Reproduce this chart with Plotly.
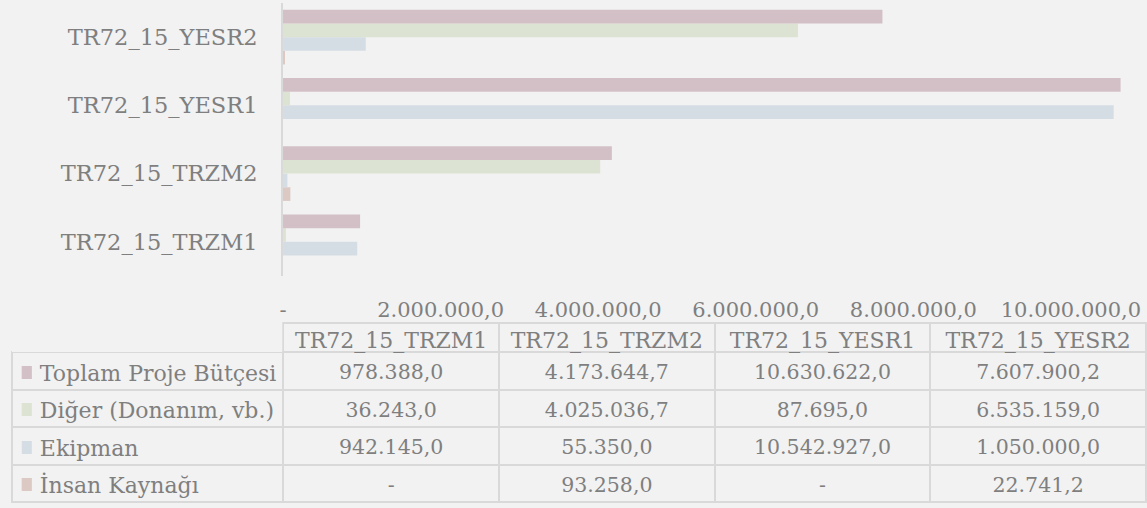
import plotly.graph_objects as go

# projects (bottom -> top on the chart)
projects = ["TR72_15_TRZM1", "TR72_15_TRZM2", "TR72_15_YESR1", "TR72_15_YESR2"]

series_names = ["Toplam Proje Bütçesi", "Diğer (Donanım, vb.)", "Ekipman", "İnsan Kaynağı"]
toplam = [978388.0, 4173644.7, 10630622.0, 7607900.2]
diger = [36243.0, 4025036.7, 87695.0, 6535159.0]
ekipman = [942145.0, 55350.0, 10542927.0, 1050000.0]
insan = [0.0, 93258.0, 0.0, 22741.2]

tick_vals = [0, 2000000, 4000000, 6000000, 8000000, 10000000]
tick_text = ["-", "2.000.000,0", "4.000.000,0", "6.000.000,0", "8.000.000,0", "10.000.000,0"]

colors = ["#d3c0c6", "#dce3d2", "#d5dde4", "#dcc9c4"]
series = [toplam, diger, ekipman, insan]

BG = "#f2f2f2"
TXT = "#7f7f7f"
GRID = "#d9d9d9"
CLEAR = "rgba(0,0,0,0)"
FONT = "DejaVu Serif"
W, H = 1147, 508


def fmt(v):
    if v == 0:
        return "-"
    s = f"{v:,.1f}"
    return s.replace(",", "X").replace(".", ",").replace("X", ".")


fig = go.Figure()

# plotly puts the first trace at the bottom of each group, so go in reverse
for name, vals, col in reversed(list(zip(series_names, series, colors))):
    fig.add_trace(go.Bar(
        y=projects, x=vals, name=name, orientation="h",
        marker=dict(color=col, line=dict(width=0)),
        hoverinfo="skip", showlegend=False,
    ))

# data table: grid + header first
fig.add_trace(go.Table(
    domain=dict(x=[8 / W, 1146 / W], y=[0, (H - 323) / H]),
    columnwidth=[273, 217, 217, 217, 217],
    header=dict(
        values=[""] + projects,
        height=29,
        fill=dict(color=BG),
        line=dict(color=[CLEAR] + [GRID] * 4, width=2),
        font=dict(family=FONT, size=22, color=TXT),
        align="center",
    ),
    cells=dict(
        values=[[""] * len(series)] * (len(projects) + 1),
        height=37.5,
        fill=dict(color=BG),
        line=dict(color=GRID, width=2),
    ),
))

# then the cell texts on top (a little lower so they sit mid-row),
# legend keys in their own narrow column; nbsp keeps labels on one line
keys = ["■"] * len(series)
labels = [n.replace(" ", "\u00a0") for n in series_names]
numbers = [[fmt(s[i]) for s in series] for i in range(len(projects))]

fig.add_trace(go.Table(
    domain=dict(x=[8 / W, 1146 / W], y=[0, (H - 327) / H]),
    columnwidth=[20, 253, 217, 217, 217, 217],
    header=dict(values=[""] * 6, height=29,
                fill=dict(color=CLEAR), line=dict(color=CLEAR, width=0)),
    cells=dict(
        values=[keys, labels] + numbers,
        height=37.5,
        fill=dict(color=CLEAR),
        line=dict(color=CLEAR, width=0),
        font=dict(family=FONT, size=[17, 22, 20.5, 20.5, 20.5, 20.5],
                  color=[colors, TXT, TXT, TXT, TXT, TXT]),
        align=["left", "left", "center", "center", "center", "center"],
    ),
))

fig.update_layout(
    width=W, height=H,
    margin=dict(l=0, r=0, t=0, b=0),
    paper_bgcolor=BG, plot_bgcolor=BG,
    barmode="group", bargap=0.2, bargroupgap=0,
    font=dict(family=FONT, size=21, color=TXT),
    xaxis=dict(
        domain=[280 / W, 1.0], range=[0, 10966000],
        tickvals=tick_vals, ticktext=tick_text,
        showgrid=False, zeroline=False, showline=False,
        ticks="", ticklabelstandoff=19,
        tickfont=dict(family=FONT, size=21, color=TXT),
    ),
    yaxis=dict(
        domain=[(H - 276) / H, (H - 3) / H],
        showgrid=False, zeroline=False,
        showline=True, linecolor=GRID, linewidth=2,
        ticks="", ticklabelstandoff=19,
        tickfont=dict(family=FONT, size=22.5, color=TXT),
    ),
)

fig.write_html("out.html", config={"displayModeBar": False},
               post_script="document.body.style.margin='0';")
